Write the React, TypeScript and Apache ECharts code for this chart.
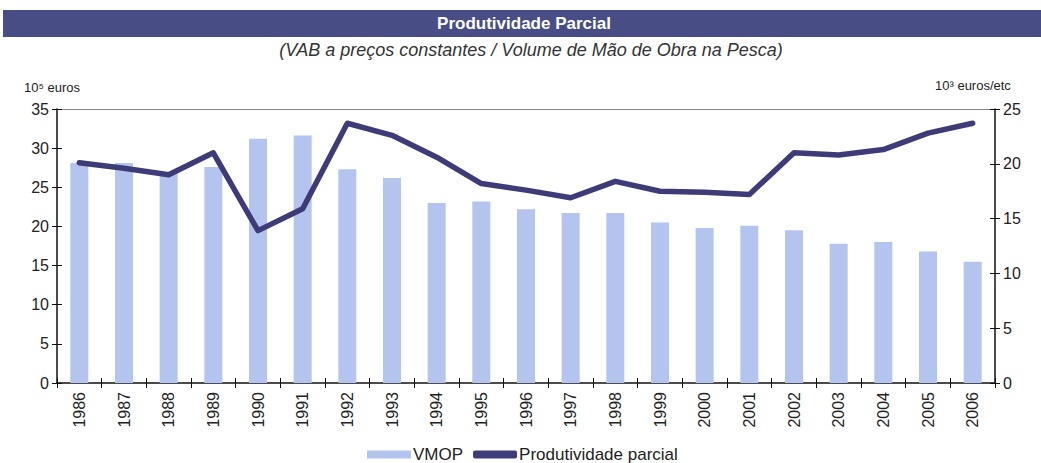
import React, { useEffect, useRef } from "react";
import * as echarts from "echarts";

const years = ["1986","1987","1988","1989","1990","1991","1992","1993","1994","1995","1996","1997","1998","1999","2000","2001","2002","2003","2004","2005","2006"];
const vmop = [28.1, 28.1, 26.8, 27.6, 31.2, 31.6, 27.3, 26.2, 23.0, 23.2, 22.2, 21.7, 21.7, 20.5, 19.8, 20.1, 19.5, 17.8, 18.0, 16.8, 15.5];
const produtividade = [20.1, 19.6, 19.0, 21.0, 13.9, 15.9, 23.7, 22.6, 20.6, 18.2, 17.6, 16.9, 18.4, 17.5, 17.4, 17.2, 21.0, 20.8, 21.3, 22.8, 23.7];
const leftTicks = { min: 0, max: 35, interval: 5 };
const rightTicks = { min: 0, max: 25, interval: 5 };

const FONT = "'Liberation Sans', Arial, sans-serif";

export default function App() {
  const ref = useRef<HTMLDivElement>(null);
  useEffect(() => {
    document.body.style.margin = "0";
    const chart = echarts.init(ref.current!, null, { renderer: "svg" });
    const tickStyle = { color: "#111", width: 1 };
    const innerY = (idx: number, t: { min: number; max: number; interval: number }, pos: string) => ({
      type: "value",
      position: pos,
      min: t.min,
      max: t.max,
      interval: t.interval,
      splitLine: { show: false },
      axisLine: { show: false },
      axisTick: { show: true, inside: true, length: 5, lineStyle: tickStyle },
      axisLabel: { show: false }
    });
    chart.setOption({
      animation: false,
      textStyle: { fontFamily: FONT },
      grid: { left: 57, right: 46, top: 109, bottom: 80 },
      graphic: [
        { type: "rect", shape: { x: 3, y: 10, width: 1038, height: 27 }, style: { fill: "#494d86" } },
        { type: "text", x: 524, y: 23.5, style: { text: "Produtividade Parcial", fill: "#ffffff", font: `bold 17px ${FONT}`, textAlign: "center", textVerticalAlign: "middle" } },
        { type: "text", x: 531, y: 50, style: { text: "(VAB a preços constantes / Volume de Mão de Obra na Pesca)", fill: "#333333", font: `italic 18px ${FONT}`, textAlign: "center", textVerticalAlign: "middle" } },
        { type: "text", x: 24, y: 87, style: { text: "10⁵ euros", fill: "#222", font: `13px ${FONT}`, textAlign: "left", textVerticalAlign: "middle" } },
        { type: "text", x: 935, y: 85, style: { text: "10³ euros/etc", fill: "#222", font: `13px ${FONT}`, textAlign: "left", textVerticalAlign: "middle" } },
        { type: "line", shape: { x1: 57, y1: 109.5, x2: 995, y2: 109.5 }, style: { stroke: "#8a8282", lineWidth: 1 } }
      ],
      legend: {
        left: 362,
        top: 441,
        itemWidth: 44,
        itemHeight: 8,
        itemGap: 10,
        textStyle: { fontSize: 17, color: "#222", fontFamily: FONT, padding: [0, 0, 0, -3] },
        data: [
          { name: "VMOP", icon: "rect" },
          { name: "Produtividade parcial", icon: "roundRect" }
        ]
      },
      xAxis: [
        {
          type: "category",
          data: years,
          boundaryGap: true,
          axisLine: { lineStyle: { color: "#111", width: 1.5 } },
          axisTick: { show: true, alignWithLabel: false, length: 5, lineStyle: tickStyle },
          axisLabel: { rotate: 90, fontSize: 16, color: "#222", margin: 9, fontFamily: FONT }
        },
        {
          type: "category",
          data: years,
          position: "bottom",
          boundaryGap: true,
          axisLine: { show: false },
          axisTick: { show: true, inside: true, alignWithLabel: false, length: 5, lineStyle: tickStyle },
          axisLabel: { show: false }
        }
      ],
      yAxis: [
        {
          type: "value",
          min: leftTicks.min,
          max: leftTicks.max,
          interval: leftTicks.interval,
          splitLine: { show: false },
          axisLine: { show: true, lineStyle: { color: "#111", width: 1.5 } },
          axisTick: { show: true, length: 5, lineStyle: tickStyle },
          axisLabel: { fontSize: 16, color: "#222", margin: 8, fontFamily: FONT }
        },
        {
          type: "value",
          position: "right",
          min: rightTicks.min,
          max: rightTicks.max,
          interval: rightTicks.interval,
          splitLine: { show: false },
          axisLine: { show: true, lineStyle: { color: "#111", width: 1.5 } },
          axisTick: { show: true, length: 5, lineStyle: tickStyle },
          axisLabel: { fontSize: 16, color: "#222", margin: 8, fontFamily: FONT }
        },
        innerY(2, leftTicks, "left"),
        innerY(3, rightTicks, "right")
      ],
      series: [
        {
          name: "VMOP",
          type: "bar",
          yAxisIndex: 0,
          data: vmop,
          barWidth: 18,
          itemStyle: { color: "#b3c5ee" }
        },
        {
          name: "Produtividade parcial",
          type: "line",
          yAxisIndex: 1,
          data: produtividade,
          symbol: "none",
          lineStyle: { color: "#3e3c78", width: 5.5, cap: "round", join: "round" },
          itemStyle: { color: "#3e3c78" }
        }
      ]
    });
    return () => chart.dispose();
  }, []);
  return <div ref={ref} style={{ position: "absolute", left: 0, top: 0, width: 1041, height: 463 }} />;
}
